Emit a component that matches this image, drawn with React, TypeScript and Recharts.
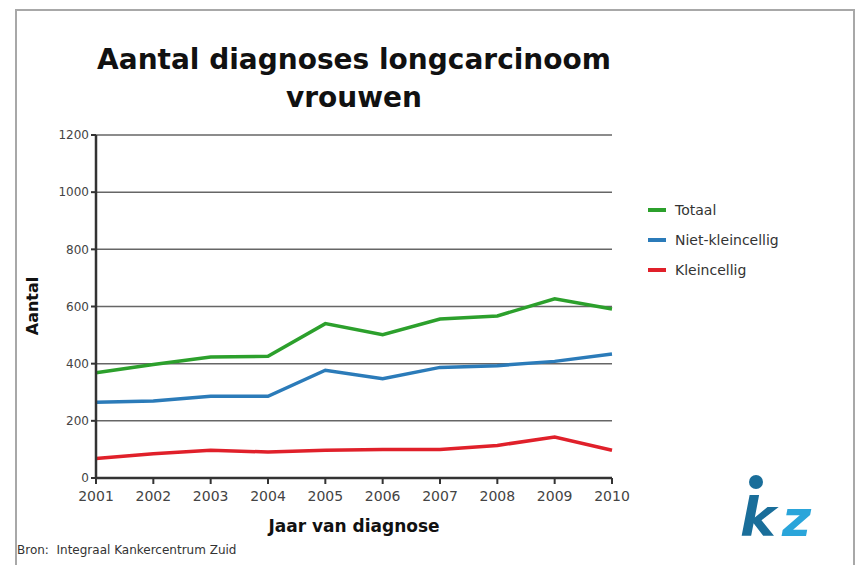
import { LineChart, Line, XAxis, YAxis, CartesianGrid } from "recharts";

const years = ["2001", "2002", "2003", "2004", "2005", "2006", "2007", "2008", "2009", "2010"];
const totaal = [368, 397, 423, 426, 540, 501, 556, 567, 627, 591];
const nietKleincellig = [265, 269, 286, 286, 377, 347, 387, 393, 408, 434];
const kleincellig = [68, 85, 97, 91, 97, 100, 100, 114, 143, 97];
const yTicks = [0, 200, 400, 600, 800, 1000, 1200];

const series = [
  { key: "totaal", label: "Totaal", color: "#2ca02c" },
  { key: "niet", label: "Niet-kleincellig", color: "#2b7bb9" },
  { key: "klein", label: "Kleincellig", color: "#e0202a" },
];

const data = years.map((y, i) => ({
  year: y,
  totaal: totaal[i],
  niet: nietKleincellig[i],
  klein: kleincellig[i],
}));

const FONT = "'DejaVu Sans', Verdana, sans-serif";

const LegendBox = () => (
  <div style={{ position: "absolute", left: 648, top: 195, fontSize: 14, color: "#333" }}>
    {series.map((s) => (
      <div key={s.key} style={{ display: "flex", alignItems: "center", height: 30 }}>
        <div style={{ width: 18, height: 4, background: s.color, marginRight: 9 }} />
        <span>{s.label}</span>
      </div>
    ))}
  </div>
);

export default function App() {
  return (
    <div
      style={{
        position: "absolute",
        left: 0,
        top: 0,
        width: 856,
        height: 565,
        background: "#fff",
        overflow: "hidden",
        fontFamily: FONT,
      }}
    >
      <div
        style={{
          position: "absolute",
          left: 15,
          top: 9,
          width: 836,
          height: 600,
          border: "2px solid #a8a8a8",
        }}
      />
      <div
        style={{
          position: "absolute",
          left: 0,
          width: 708,
          top: 41,
          textAlign: "center",
          fontWeight: "bold",
          fontSize: 28,
          lineHeight: "38px",
          color: "#111",
        }}
      >
        Aantal diagnoses longcarcinoom
        <br />
        vrouwen
      </div>
      <LineChart
        width={856}
        height={565}
        data={data}
        margin={{ top: 135, right: 244, bottom: 57, left: 56 }}
        style={{ position: "absolute", left: 0, top: 0 }}
      >
        <CartesianGrid vertical={false} stroke="#666" strokeWidth={1.5} />
        <XAxis
          dataKey="year"
          height={30}
          tick={{ fill: "#444", fontSize: 14, fontFamily: FONT }}
          tickLine={{ stroke: "#333", strokeWidth: 2 }}
          axisLine={{ stroke: "#333", strokeWidth: 2.5 }}
          tickSize={6}
          tickMargin={7}
          interval={0}
        />
        <YAxis
          width={40}
          domain={[0, 1200]}
          ticks={yTicks}
          tick={{ fill: "#444", fontSize: 12, fontFamily: FONT }}
          tickLine={{ stroke: "#333", strokeWidth: 2 }}
          axisLine={{ stroke: "#333", strokeWidth: 2.5 }}
          tickSize={5}
        />
        {series.map((s) => (
          <Line
            key={s.key}
            dataKey={s.key}
            name={s.label}
            type="linear"
            stroke={s.color}
            strokeWidth={3.5}
            dot={false}
            isAnimationActive={false}
          />
        ))}
      </LineChart>
      <LegendBox />
      <div
        style={{
          position: "absolute",
          left: 32,
          top: 306,
          transform: "translate(-50%, -50%) rotate(-90deg)",
          fontWeight: "bold",
          fontSize: 16,
          color: "#111",
        }}
      >
        Aantal
      </div>
      <div
        style={{
          position: "absolute",
          left: 96,
          width: 516,
          top: 516,
          textAlign: "center",
          fontWeight: "bold",
          fontSize: 17,
          color: "#111",
        }}
      >
        Jaar van diagnose
      </div>
      <div style={{ position: "absolute", left: 17, top: 543, fontSize: 12, color: "#333" }}>
        Bron:&nbsp; Integraal Kankercentrum Zuid
      </div>
      <svg width={110} height={90} style={{ position: "absolute", left: 732, top: 462 }}>
        <circle cx={24} cy={20} r={7} fill="#1a6e9a" />
        <text x={8} y={74} fontFamily={FONT} fontWeight="bold" fontStyle="italic" fontSize={54} fill="#1a6e9a">
          k
        </text>
        <text x={50} y={74} fontFamily={FONT} fontWeight="bold" fontStyle="italic" fontSize={50} fill="#2aa5da">
          z
        </text>
      </svg>
    </div>
  );
}
